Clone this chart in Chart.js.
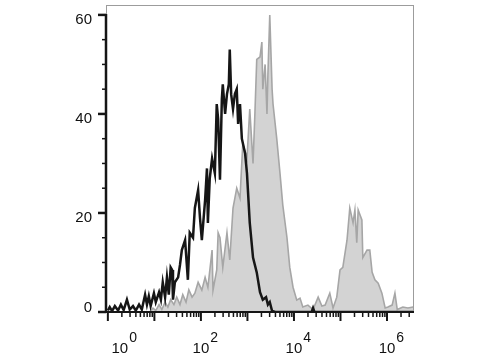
<!DOCTYPE html>
<html lang="en">
<head>
  <meta charset="UTF-8">
  <title>Flow histogram overlay</title>
  <script src="https://cdn.jsdelivr.net/npm/chart.js"></script>
  <style>
    body { margin: 0; background: #fff; }
    canvas { display: block; }
  </style>
</head>
<body>
  <canvas id="chart" width="480" height="360"></canvas>
  <script>
    // x values are log10 of the fluorescence intensity (decades)
    const controlX = [0.00, 0.04, 0.09, 0.15, 0.22, 0.28, 0.34, 0.41, 0.47, 0.54, 0.60, 0.67, 0.73, 0.80, 0.84,
      0.88, 0.92, 0.99, 1.03, 1.10, 1.14, 1.18, 1.23, 1.27, 1.31, 1.35, 1.38, 1.40, 1.44, 1.51, 1.55, 1.59,
      1.66, 1.72, 1.76, 1.83, 1.87, 1.94, 1.98, 2.02, 2.09, 2.13, 2.15, 2.19, 2.24, 2.30, 2.34, 2.37, 2.41,
      2.45, 2.47, 2.52, 2.56, 2.60, 2.62, 2.65, 2.69, 2.73, 2.77, 2.80, 2.84, 2.88, 2.95, 2.99, 3.05, 3.12,
      3.20, 3.27, 3.33, 3.40, 3.44, 3.48, 3.53, 3.60, 4.38, 4.41, 4.44, 6.58];
    const controlY = [0.3, 1.0, 0.2, 1.2, 0.3, 1.5, 0.4, 2.5, 0.5, 1.2, 0.3, 1.5, 0.5, 3.5, 1.5,
      3.2, 1.2, 3.8, 2.0, 4.0, 2.5, 6.0, 3.0, 7.0, 3.5, 9.0, 8.5, 2.5, 6.0, 7.0, 9.5, 12.5,
      14.5, 6.5, 16.0, 15.0, 21.0, 24.6, 19.0, 14.5, 22.6, 29.0, 18.0, 27.0, 31.0, 28.0, 42.0, 39.0, 26.7,
      43.0, 46.0, 40.0, 44.0, 46.0, 53.0, 44.0, 41.0, 44.0, 45.0, 38.0, 42.0, 35.0, 32.0, 28.0, 18.0, 11.0,
      8.0, 4.0, 2.5, 3.0, 1.5, 2.0, 0.2, 0, 0, 0.8, 0, 0];

    const stainedX = [0.90, 0.97, 1.03, 1.10, 1.16, 1.23, 1.29, 1.35, 1.42, 1.48, 1.55, 1.61, 1.68, 1.74,
      1.81, 1.87, 1.94, 2.02, 2.09, 2.15, 2.24, 2.26, 2.34, 2.37, 2.41, 2.47, 2.56, 2.62, 2.69, 2.77, 2.84,
      2.90, 2.99, 3.05, 3.12, 3.16, 3.20, 3.27, 3.31, 3.33, 3.38, 3.42, 3.44, 3.48, 3.53, 3.55, 3.63, 3.70,
      3.76, 3.85, 3.91, 3.98, 4.06, 4.13, 4.19, 4.30, 4.41, 4.52, 4.60, 4.67, 4.77, 4.84, 4.92, 4.99, 5.05,
      5.14, 5.20, 5.27, 5.31, 5.35, 5.38, 5.46, 5.48, 5.57, 5.63, 5.68, 5.74, 5.81, 5.89, 5.96, 6.02, 6.11,
      6.17, 6.22, 6.34, 6.45, 6.56];
    const stainedY = [0, 0.8, 0.3, 1.5, 0.5, 2.0, 1.0, 2.5, 1.5, 3.0, 1.5, 3.5, 2.0, 4.5,
      3.0, 3.8, 6.0, 4.4, 7.0, 5.0, 12.5, 4.4, 8.5, 16.0, 15.0, 9.0, 16.0, 10.5, 21.0, 25.0, 23.0,
      34.0, 31.0, 41.0, 30.0, 40.0, 51.0, 51.5, 54.5, 45.0, 50.0, 40.0, 48.0, 60.0, 45.0, 42.0, 35.0, 28.0,
      21.6, 15.0, 9.0, 5.0, 2.4, 2.8, 1.0, 1.4, 0.5, 3.0, 1.2, 1.4, 3.8, 0.8, 3.0, 8.5, 9.0,
      14.5, 21.0, 18.0, 20.6, 14.0, 20.6, 18.6, 11.0, 12.5, 12.5, 8.0, 6.5, 5.8, 3.8, 0.8, 1.0, 1.4,
      3.8, 0.5, 1.0, 0.8, 1.0];

    const yTicks = [0, 5, 10, 15, 20, 25, 30, 35, 40, 45, 50, 55, 60];
    const yLabels = [0, 20, 40, 60];
    const xDecades = [0, 1, 2, 3, 4, 5, 6];
    const xLabelDecades = [0, 2, 4, 6];

    const toPoints = (xs, ys) => xs.map((x, i) => ({ x: x, y: ys[i] }));

    const FONT = '"Liberation Sans", Arial, sans-serif';

    const axesPlugin = {
      id: 'flowAxes',
      afterDatasetsDraw(chart) {
        const { ctx, chartArea: a, scales: { x, y } } = chart;
        const seg = (x1, y1, x2, y2) => {
          ctx.beginPath(); ctx.moveTo(x1, y1); ctx.lineTo(x2, y2); ctx.stroke();
        };
        ctx.save();
        // thin grey frame
        ctx.strokeStyle = '#9c9c9c';
        ctx.lineWidth = 1;
        ctx.strokeRect(a.left + 0.5, a.top + 0.5, a.right - a.left - 1, a.bottom - a.top);

        ctx.strokeStyle = '#151515';
        // y axis with ticks
        ctx.lineWidth = 2.5;
        seg(a.left, y.getPixelForValue(60) - 1, a.left, a.bottom + 1);
        yTicks.forEach(v => {
          const py = y.getPixelForValue(v);
          const major = yLabels.includes(v);
          ctx.lineWidth = major ? 2.5 : 1.5;
          seg(a.left, py, a.left - (major ? 8 : 4), py);
        });

        // x axis with log ticks
        ctx.lineWidth = 2.2;
        seg(a.left - 1, a.bottom, a.right, a.bottom);
        xDecades.forEach(d => {
          const px = x.getPixelForValue(d);
          ctx.lineWidth = 2;
          seg(px, a.bottom, px, a.bottom + 9);
          for (let m = 2; m <= 9; m++) {
            const v = d + Math.log10(m);
            if (v > x.max) break;
            const mx = x.getPixelForValue(v);
            ctx.lineWidth = 1.5;
            seg(mx, a.bottom, mx, a.bottom + 5);
          }
        });

        // labels
        ctx.fillStyle = '#111';
        ctx.font = '15px ' + FONT;
        ctx.textAlign = 'right';
        ctx.textBaseline = 'middle';
        yLabels.forEach(v => {
          const py = y.getPixelForValue(v);
          ctx.fillText(String(v), a.left - 14, Math.min(py + 5, a.bottom - 4));
        });

        ctx.textBaseline = 'alphabetic';
        xLabelDecades.forEach(d => {
          let px = x.getPixelForValue(d);
          if (d === 0) px += 12;
          ctx.font = '15px ' + FONT;
          ctx.textAlign = 'center';
          const w = ctx.measureText('10').width;
          ctx.fillText('10', px, 353);
          ctx.font = '14px ' + FONT;
          ctx.textAlign = 'left';
          ctx.fillText(String(d), px + w / 2 + 1, 342);
        });
        ctx.restore();
      }
    };

    new Chart(document.getElementById('chart'), {
      type: 'line',
      data: {
        datasets: [{
          label: 'Control',
          data: toPoints(controlX, controlY),
          borderColor: '#161616',
          borderWidth: 2.5,
          fill: false,
          pointRadius: 0,
          tension: 0,
          order: 0
        }, {
          label: 'Stained',
          data: toPoints(stainedX, stainedY),
          borderColor: '#a6a6a6',
          backgroundColor: '#d3d3d3',
          borderWidth: 1.6,
          fill: 'origin',
          pointRadius: 0,
          tension: 0,
          order: 1
        }]
      },
      options: {
        responsive: false,
        animation: false,
        layout: { padding: { left: 106, top: 5, right: 66, bottom: 48 } },
        plugins: { legend: { display: false }, tooltip: { enabled: false } },
        scales: {
          x: { type: 'linear', min: -0.04, max: 6.58, display: false },
          y: { min: 0, max: 62, display: false }
        }
      },
      plugins: [axesPlugin]
    });
  </script>
</body>
</html>
